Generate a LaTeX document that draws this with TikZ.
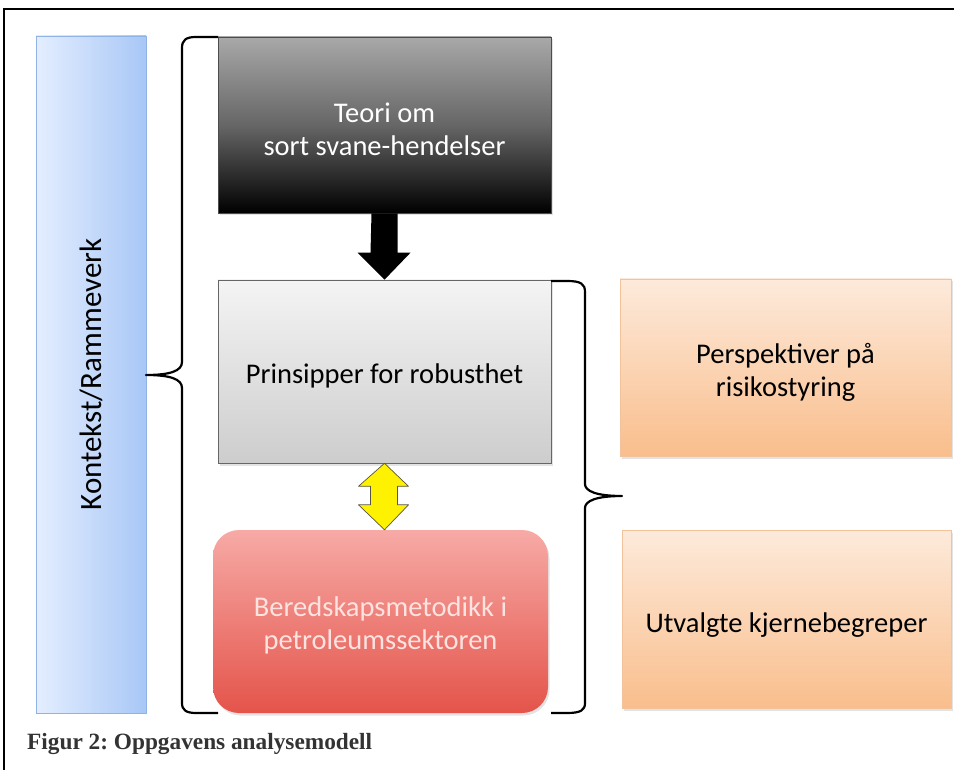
\documentclass[tikz,border=0pt]{standalone}
\usepackage{fontspec}
\setmainfont{Carlito}
\newfontfamily\capfont{Liberation Serif}
\usetikzlibrary{calc,shadows}
\frenchspacing
\definecolor{blueL}{HTML}{E4EEFF}
\definecolor{blueR}{HTML}{A8C7F6}
\definecolor{blueB}{HTML}{8FB3E6}
\definecolor{orT}{HTML}{FDEADB}
\definecolor{orB}{HTML}{F9BE8C}
\definecolor{orE}{HTML}{F2C29A}
\definecolor{redT}{HTML}{F7AAA6}
\definecolor{redB}{HTML}{E4544A}
\definecolor{redTxt}{HTML}{FCE3E0}
\definecolor{grT}{HTML}{F4F4F4}
\definecolor{grB}{HTML}{CDCDCD}
\definecolor{capgray}{HTML}{333333}
\tikzset{
  box/.style={rectangle, inner sep=0pt},
  txt/.style={inner sep=0pt, align=center, font=\fontsize{28.5}{33}\selectfont},
  brace/.style={draw=black, line width=2.2pt, line join=round},
  shade/.style={drop shadow={shadow xshift=1.5pt, shadow yshift=-2.5pt, opacity=0.22}},
}
\begin{document}
\begin{tikzpicture}[x=1pt,y=-1pt]
\useasboundingbox (0,0) rectangle (954,770);
\fill[white] (0,0) rectangle (954,770);
% outer frame (top and left edges)
\draw[line width=1.6pt] (4,770) -- (4,9) -- (954,9);

% context column
\node[box, draw=blueB, line width=0.8pt, left color=blueL, right color=blueR,
      minimum width=110pt, minimum height=677pt] (ctx) at (91,374.5) {};
\node[rotate=90, font=\fontsize{31}{36}\selectfont] (ctxlabel) at (ctx.center) {Kontekst/Rammeverk};

% theory box
\node[box, shade, draw=black!70, line width=0.6pt, top color=black!34, bottom color=black,
      middle color=black!60, minimum width=333pt, minimum height=176pt] (teori) at (384.5,125) {};
\node[txt, text=white] (teoritxt) at ([yshift=-4pt]teori.center) {Teori om\\sort svane-hendelser};

% principles box
\node[box, shade, draw=black!60, line width=0.6pt, top color=grT, bottom color=grB,
      minimum width=333pt, minimum height=183pt] (prins) at (384.5,371.5) {};
\node[txt] (prinstxt) at ([yshift=-4pt]prins.center) {Prinsipper for robusthet};

% preparedness box
\node[box, shade, draw=none, rounded corners=26pt, top color=redT, bottom color=redB,
      minimum width=335pt, minimum height=183pt] (bered) at (380.5,621.5) {};
\node[txt, text=redTxt] (beredtxt) at ([yshift=-4pt]bered.center) {Beredskapsmetodikk i\\petroleumssektoren};

% right-hand boxes
\node[box, shade, draw=orE, line width=0.6pt, top color=orT, bottom color=orB,
      minimum width=331pt, minimum height=177pt] (persp) at (785.5,367.5) {};
\node[txt] (persptxt) at ([yshift=-5pt]persp.center) {Perspektiver på\\risikostyring};
\node[box, shade, draw=orE, line width=0.6pt, top color=orT, bottom color=orB,
      minimum width=329pt, minimum height=178pt] (utv) at (786.5,619) {};
\node[txt] (utvtxt) at ([yshift=-6pt]utv.center) {Utvalgte kjernebegreper};

% black arrow from theory to principles
\fill[black] ($(teori.south)+(-13,0)$) -- ($(teori.south)+(13,0)$)
  -- ($(prins.north)+(13,-27)$) -- ($(prins.north)+(26,-27)$)
  -- (prins.north) -- ($(prins.north)+(-27,-27)$) -- ($(prins.north)+(-14,-27)$) -- cycle;

% yellow double arrow between principles and preparedness
\coordinate (ytop) at (prins.south);
\coordinate (ybot) at (prins.south |- bered.north);
\filldraw[fill=yellow, draw=black!75!yellow, line width=0.7pt, line join=round]
  (ytop) -- ($(ytop)+(24,23)$) -- ($(ytop)+(13,23)$) -- ($(ybot)+(13,-25)$)
  -- ($(ybot)+(24,-25)$) -- (ybot) -- ($(ybot)+(-26,-25)$) -- ($(ybot)+(-14,-25)$)
  -- ($(ytop)+(-14,23)$) -- ($(ytop)+(-26,23)$) -- cycle;

% left brace grouping the three central boxes
\coordinate (lbt) at (218,37);
\coordinate (lbb) at (218,713);
\coordinate (lbm) at (146,375);
\draw[brace] (lbt) -- (196,37) .. controls (186,37) and (182,40) .. (182,48)
  -- (182,362) .. controls (182,371) and (170,375) .. (lbm)
  .. controls (170,375) and (182,379) .. (182,388)
  -- (182,703) .. controls (182,710) and (186,713) .. (196,713) -- (lbb);

% right brace grouping the lower two boxes
\coordinate (rbt) at (551,281);
\coordinate (rbb) at (551,713);
\coordinate (rbm) at (622,496);
\draw[brace] (rbt) -- (567,281) .. controls (581,281) and (585,284) .. (585,292)
  -- (585,484) .. controls (585,491) and (596,496) .. (rbm)
  .. controls (596,496) and (585,501) .. (585,508)
  -- (585,703) .. controls (585,710) and (581,713) .. (567,713) -- (rbb);

% caption
\node[anchor=base west, inner sep=0pt, text=capgray, font=\capfont\bfseries\fontsize{23.3}{27}\selectfont]
  (cap) at (27,749) {Figur 2: Oppgavens analysemodell};
\end{tikzpicture}
\end{document}
